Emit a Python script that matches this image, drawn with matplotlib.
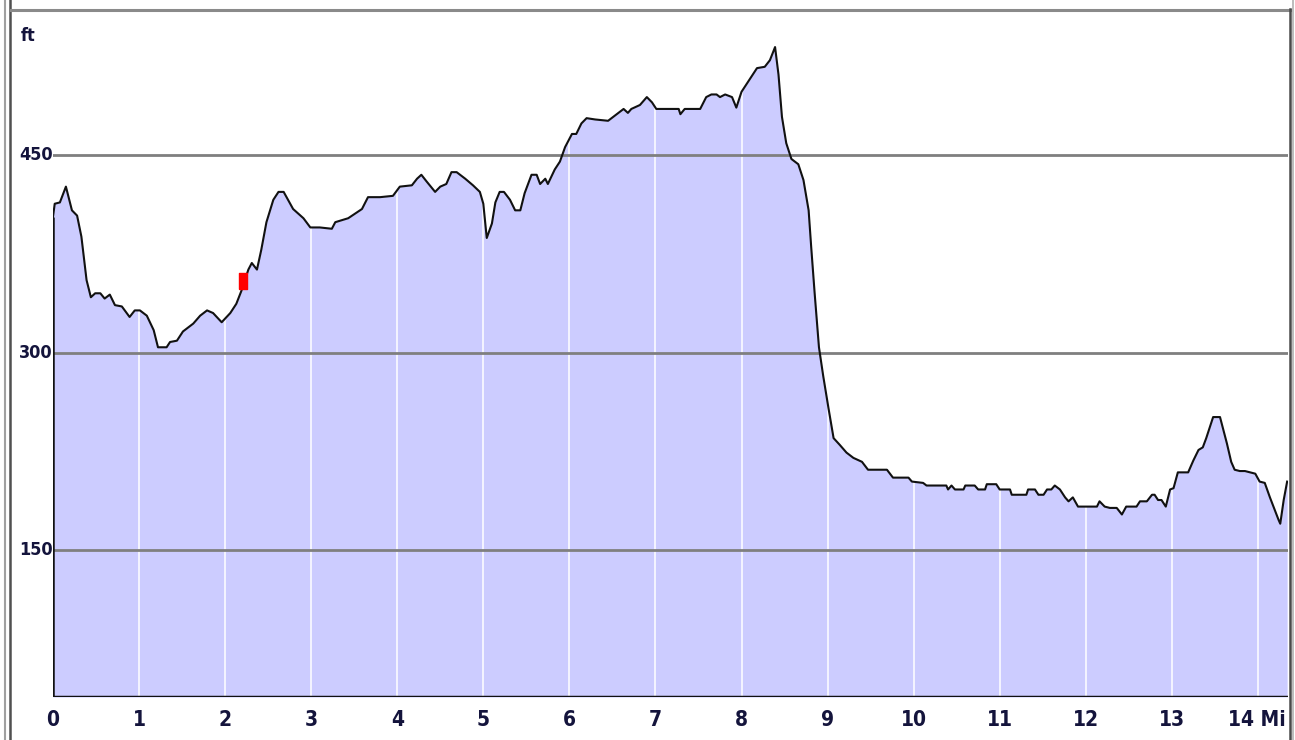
import matplotlib
matplotlib.use('Agg')
import matplotlib.pyplot as plt
from matplotlib.lines import Line2D

# ---- data (miles, feet) ----
miles = [0.00, 0.02, 0.08, 0.15, 0.22, 0.28, 0.33, 0.39, 0.44, 0.49, 0.55, 0.60, 0.66,
         0.72, 0.80, 0.89, 0.95, 1.01, 1.09, 1.17, 1.22, 1.32, 1.36, 1.44, 1.51, 1.63,
         1.71, 1.79, 1.86, 1.96, 2.06, 2.13, 2.19, 2.27, 2.31, 2.37, 2.42, 2.48, 2.56,
         2.62, 2.68, 2.79, 2.91, 2.99, 3.10, 3.24, 3.28, 3.43, 3.59, 3.66, 3.80, 3.95,
         4.03, 4.17, 4.23, 4.28, 4.34, 4.44, 4.50, 4.57, 4.63, 4.69, 4.79, 4.88, 4.96,
         5.00, 5.04, 5.10, 5.14, 5.19, 5.24, 5.31, 5.37, 5.43, 5.48, 5.56, 5.62, 5.66,
         5.72, 5.75, 5.83, 5.89, 5.95, 6.03, 6.08, 6.14, 6.20, 6.30, 6.45, 6.51, 6.57,
         6.63, 6.68, 6.72, 6.82, 6.90, 6.96, 7.01, 7.27, 7.29, 7.34, 7.52, 7.59, 7.65,
         7.71, 7.75, 7.81, 7.89, 7.94, 8.00, 8.10, 8.18, 8.27, 8.33, 8.39, 8.43, 8.47,
         8.52, 8.58, 8.66, 8.72, 8.78, 8.81, 8.85, 8.90, 8.95, 9.01, 9.07, 9.14, 9.22,
         9.30, 9.40, 9.47, 9.69, 9.76, 9.94, 9.98, 10.11, 10.15, 10.38, 10.40, 10.44,
         10.48, 10.58, 10.60, 10.71, 10.75, 10.83, 10.85, 10.96, 11.00, 11.12, 11.14,
         11.31, 11.33, 11.41, 11.45, 11.51, 11.55, 11.60, 11.64, 11.70, 11.76, 11.80,
         11.85, 11.91, 12.13, 12.16, 12.22, 12.28, 12.36, 12.42, 12.47, 12.59, 12.63,
         12.71, 12.77, 12.80, 12.84, 12.88, 12.93, 12.98, 13.02, 13.07, 13.19, 13.25,
         13.31, 13.36, 13.40, 13.48, 13.56, 13.64, 13.69, 13.73, 13.79, 13.85, 13.97,
         14.02, 14.08, 14.14, 14.24, 14.26, 14.30, 14.34]
elev = [403, 413, 414, 426, 408, 404, 388, 355, 342, 345, 345, 341, 344,
        336, 335, 327, 332, 332, 328, 317, 304, 304, 308, 309, 316, 322,
        328, 332, 330, 323, 330, 337, 347, 363, 368, 363, 378, 399, 416,
        422, 422, 409, 402, 395, 395, 394, 399, 402, 409, 418, 418, 419,
        426, 427, 432, 435, 430, 422, 426, 428, 437, 437, 432, 427, 422,
        413, 387, 398, 414, 422, 422, 416, 408, 408, 421, 435, 435, 428,
        432, 428, 439, 445, 456, 466, 466, 474, 478, 477, 476, 479, 482,
        485, 482, 485, 488, 494, 490, 485, 485, 481, 485, 485, 494, 496,
        496, 494, 496, 494, 486, 498, 508, 516, 517, 522, 532, 511, 479,
        459, 447, 443, 431, 408, 380, 345, 304, 282, 258, 235, 230, 224,
        220, 217, 211, 211, 205, 205, 202, 201, 199, 199, 196, 199,
        196, 196, 199, 199, 196, 196, 200, 200, 196, 196, 192,
        192, 196, 196, 192, 192, 196, 196, 199, 196, 190, 187,
        190, 183, 183, 187, 183, 182, 182, 177, 183, 183, 187,
        187, 192, 192, 188, 188, 183, 196, 197, 209, 209, 218,
        226, 228, 235, 251, 251, 231, 217, 211, 210, 210, 208,
        202, 201, 190, 173, 170, 188, 202]
marker_mile = 2.21
marker_elev = 354

x_ticks = list(range(15))
x_labels = [str(i) for i in range(14)] + ['14 Mi']
y_ticks = [150, 300, 450]
y_labels = ['150', '300', '450']
unit_label = 'ft'

W, H = 1295, 740
FONT = ['DejaVu Sans']
TXT = '#14143c'
TK = dict(fontsize=15, fontweight='bold', family=FONT, fontstretch='condensed',
          color=TXT)
TKY = dict(TK, fontsize=13)

fig = plt.figure(figsize=(W / 100, H / 100), dpi=100)
fig.patch.set_facecolor('white')
ax = fig.add_axes([53 / W, 1 - 697 / H, (1288 - 53) / W, (697 - 9) / H])
ax.set_xlim(0, 14.35)
ymin, ymax = 38.4, 560.9
ax.set_ylim(ymin, ymax)
ax.set_facecolor('white')
for s in ax.spines.values():
    s.set_visible(False)
ax.set_xticks([])
ax.set_yticks([])

# filled profile
ax.fill_between(miles, elev, ymin, color='#ccccff', lw=0, zorder=1)
# vertical white mile lines
for t in x_ticks[1:]:
    ax.axvline(t, color='white', lw=1.1, zorder=2)
# horizontal gray lines
for v in y_ticks:
    ax.axhline(v, color='#7f7f7f', lw=2.0, zorder=3)
# outline
ax.plot(miles, elev, color='#111111', lw=1.5, zorder=4)
ax.vlines(miles[0], ymin, elev[0], color='#111111', lw=1.8, zorder=4)
ax.axhline(ymin, color='#111111', lw=2.5, zorder=4)
# red position marker
rect = [(-0.47, -1), (0.47, -1), (0.47, 1), (-0.47, 1), (-0.47, -1)]
ax.plot([marker_mile], [marker_elev], marker=rect, ms=11, color='#ff0000',
        mec='#ff0000', zorder=6)

# x labels
for t, lab in zip(x_ticks, x_labels):
    if lab.endswith('Mi'):
        ax.annotate(lab, xy=(1, 0), xycoords='axes fraction',
                    xytext=(-2, -13), textcoords='offset pixels', ha='right', va='top',
                    **TK)
    else:
        ax.annotate(lab, xy=(t, 0), xycoords=('data', 'axes fraction'),
                    xytext=(0, -13), textcoords='offset pixels', ha='center', va='top',
                    **TK)
# y labels
for v, lab in zip(y_ticks, y_labels):
    ax.annotate(lab, xy=(19, v), xycoords=('figure pixels', 'data'),
                ha='left', va='center', **TKY)
fig.text(21 / W, 1 - 36 / H, unit_label, ha='left', va='center', **TKY)

# window frame
def fl(xs, ys, **kw):
    fig.add_artist(Line2D([x / W for x in xs], [1 - y / H for y in ys],
                          transform=fig.transFigure, **kw))

fl([5, 5], [0, H], color='#a0a0a0', lw=1.5)
fl([10, 10], [0, H], color='#505050', lw=1.8)
fl([11, 1290], [9.5, 9.5], color='#8a8a8a', lw=2.2)
fl([1289.5, 1289.5], [9, H], color='#4a4a4a', lw=1.8)
fl([1292.5, 1292.5], [0, H], color='#b0b0b0', lw=1.2)

fig.savefig('out.png', dpi=100, facecolor='white')
